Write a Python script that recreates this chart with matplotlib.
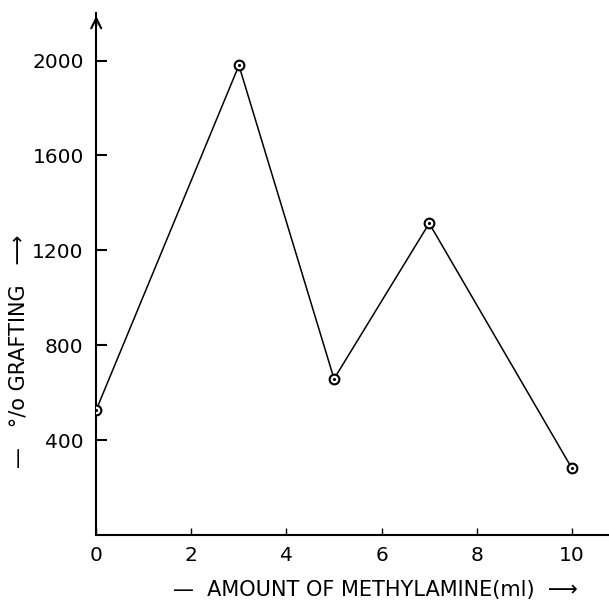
import matplotlib
matplotlib.use("Agg")
import matplotlib.pyplot as plt

# amount of methylamine (ml) vs % grafting
methylamine_ml = [0, 3, 5, 7, 10]
grafting_pct = [527, 1980, 658, 1314, 281]

x_ticks = [0, 2, 4, 6, 8, 10]
y_ticks = [400, 800, 1200, 1600, 2000]

fig = plt.figure(figsize=(6.09, 6.01), dpi=100)
ax = fig.add_axes([0.158, 0.11, 0.842, 0.868])

ax.plot(methylamine_ml, grafting_pct, color='black', lw=1.1, zorder=2)
ax.plot(methylamine_ml, grafting_pct, ls='none', marker='o', ms=7,
        mfc='white', mec='black', mew=1.5, zorder=3)
ax.plot(methylamine_ml, grafting_pct, ls='none', marker='.', ms=2.5,
        color='black', zorder=4)

ax.set_xlim(0, 10.78)
ax.set_ylim(0, 2200)
ax.set_xticks(x_ticks)
ax.set_yticks(y_ticks)
ax.tick_params(axis='y', direction='in', length=8, width=1.5, labelsize=14.5, pad=9)
ax.tick_params(axis='x', direction='in', length=5, width=1, labelsize=14.5, pad=8)

for s in ['top', 'right']:
    ax.spines[s].set_visible(False)
for s in ['left', 'bottom']:
    ax.spines[s].set_linewidth(1.5)

# open arrowhead at the top of the y axis
ax.annotate('', xy=(0, 1.0), xycoords='axes fraction', xytext=(0, 0.97),
            arrowprops=dict(arrowstyle='->', color='black', lw=1.5,
                            mutation_scale=18), annotation_clip=False)

ax.set_xlabel('—  AMOUNT OF METHYLAMINE(ml)  ⟶', fontsize=15)
ax.set_ylabel('—   °/o GRAFTING   ⟶', fontsize=15)
ax.xaxis.set_label_coords(0.545, -0.086)
ax.yaxis.set_label_coords(-0.133, 0.351)

fig.savefig('out.png', dpi=100)
